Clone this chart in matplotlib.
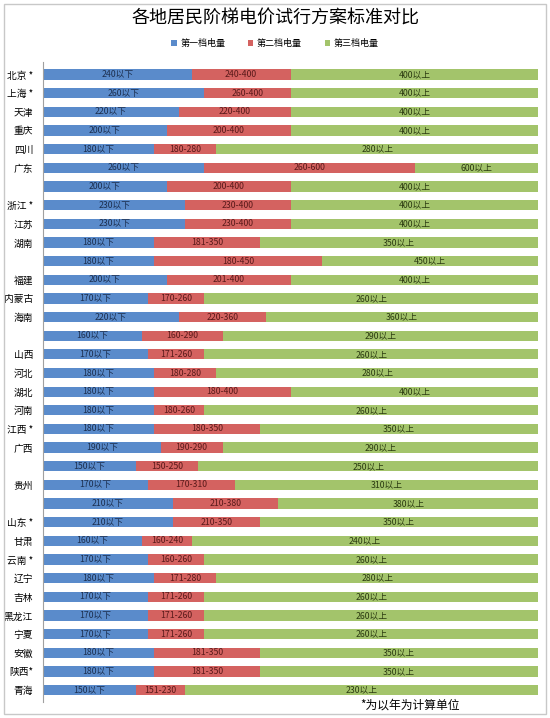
"""Stacked horizontal bars: residential tiered electricity price schemes by region."""
import matplotlib.pyplot as plt
from matplotlib.patches import Rectangle

plt.rcParams['font.family'] = ['Noto Sans CJK SC', 'DejaVu Sans']

# row labels, top to bottom ("" = unlabeled row)
regions = ["北京 *", "上海 *", "天津", "重庆", "四川", "广东", "", "浙江 *", "江苏",
           "湖南", "", "福建", "内蒙古", "海南", "", "山西", "河北", "湖北", "河南",
           "江西 *", "广西", "", "贵州", "", "山东 *", "甘肃", "云南 *", "辽宁",
           "吉林", "黑龙江", "宁夏", "安徽", "陕西*", "青海"]
# first tier upper bound
tier1 = [240, 260, 220, 200, 180, 260, 200, 230, 230, 180, 180, 200, 170, 220, 160,
         170, 180, 180, 180, 180, 190, 150, 170, 210, 210, 160, 170, 180, 170, 170,
         170, 180, 180, 150]
# second tier label start and upper bound
tier2_start = [240, 260, 220, 200, 180, 260, 200, 230, 230, 181, 180, 201, 170, 220,
               160, 171, 180, 180, 180, 180, 190, 150, 170, 210, 210, 160, 160, 171,
               171, 171, 171, 181, 181, 151]
tier2 = [400, 400, 400, 400, 280, 600, 400, 400, 400, 350, 450, 400, 260, 360, 290,
         260, 280, 400, 260, 350, 290, 250, 310, 380, 350, 240, 260, 280, 260, 260,
         260, 350, 350, 230]
total = 800
series_names = ["第一档电量", "第二档电量", "第三档电量"]

colors = ["#5a8bcb", "#d46260", "#a3c46b"]
text_colors = ["#1c2f4f", "#5a1a1a", "#2b3a10"]

fig = plt.figure(figsize=(5.5, 7.18), dpi=100)
fig.patches.append(Rectangle((0.008, 0.006), 0.984, 0.988, transform=fig.transFigure,
                             fill=False, edgecolor="#c8c8c8", linewidth=1.0))
ax = fig.add_axes([0.078, 0.022, 0.901, 0.891])

n = len(regions)
ys = list(range(n))
h = 0.55
w1 = tier1
w2 = [b - a for a, b in zip(tier1, tier2)]
w3 = [total - b for b in tier2]
b1 = ax.barh(ys, w1, height=h, color=colors[0], label=series_names[0])
b2 = ax.barh(ys, w2, left=tier1, height=h, color=colors[1], label=series_names[1])
b3 = ax.barh(ys, w3, left=tier2, height=h, color=colors[2], label=series_names[2])

for i in ys:
    ax.text(tier1[i] / 2, i, f"{tier1[i]}以下", ha="center", va="center",
            fontsize=6.3, color=text_colors[0])
    ax.text((tier1[i] + tier2[i]) / 2, i, f"{tier2_start[i]}-{tier2[i]}", ha="center",
            va="center", fontsize=6.3, color=text_colors[1])
    ax.text((tier2[i] + total) / 2, i, f"{tier2[i]}以上", ha="center", va="center",
            fontsize=6.3, color=text_colors[2])

ax.set_xlim(0, total)
ax.set_ylim(n - 0.35, -0.65)
ax.set_yticks(ys)
ax.set_yticklabels(regions, fontsize=7)
ax.tick_params(axis="y", length=0, pad=7)
ax.set_xticks([])
for side in ["top", "right", "bottom"]:
    ax.spines[side].set_visible(False)
ax.spines["left"].set_color("#a0a0a0")
ax.spines["left"].set_linewidth(0.8)

fig.text(0.5, 0.974, "各地居民阶梯电价试行方案标准对比", ha="center", va="center",
         fontsize=13)
fig.legend(handles=[b1, b2, b3], loc="center", bbox_to_anchor=(0.5, 0.939), ncol=3,
           frameon=False, fontsize=6.5, handlelength=0.6, handleheight=0.6,
           columnspacing=2.5, handletextpad=0.4)
fig.text(0.745, 0.018, "*为以年为计算单位", ha="center", va="center", fontsize=8.5)

fig.savefig("out.png", dpi=100)
